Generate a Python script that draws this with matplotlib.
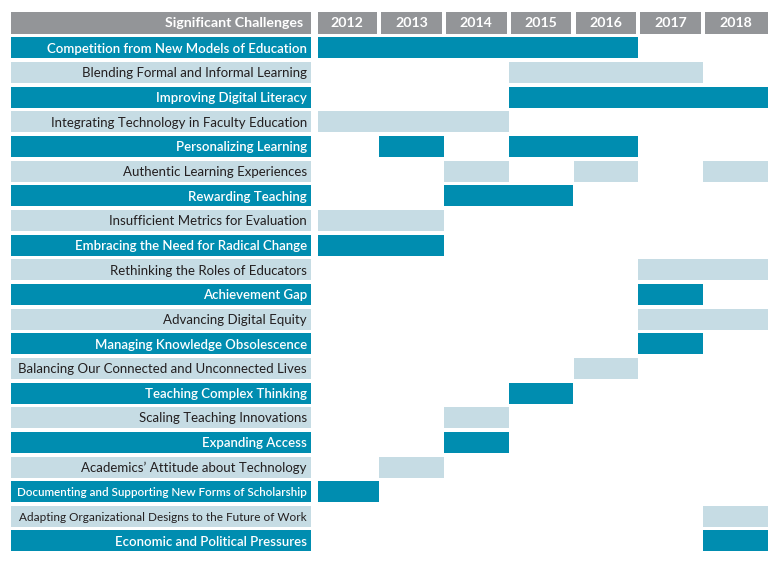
import matplotlib
matplotlib.use("Agg")
import matplotlib.pyplot as plt
from matplotlib.patches import Rectangle

years = [2012, 2013, 2014, 2015, 2016, 2017, 2018]
header_label = "Significant Challenges"
challenges = [
    "Competition from New Models of Education",
    "Blending Formal and Informal Learning",
    "Improving Digital Literacy",
    "Integrating Technology in Faculty Education",
    "Personalizing Learning",
    "Authentic Learning Experiences",
    "Rewarding Teaching",
    "Insufficient Metrics for Evaluation",
    "Embracing the Need for Radical Change",
    "Rethinking the Roles of Educators",
    "Achievement Gap",
    "Advancing Digital Equity",
    "Managing Knowledge Obsolescence",
    "Balancing Our Connected and Unconnected Lives",
    "Teaching Complex Thinking",
    "Scaling Teaching Innovations",
    "Expanding Access",
    "Academics\u2019 Attitude about Technology",
    "Documenting and Supporting New Forms of Scholarship",
    "Adapting Organizational Designs to the Future of Work",
    "Economic and Political Pressures",
]
# years each challenge appeared in
active_years = [
    [2012, 2013, 2014, 2015, 2016],
    [2015, 2016, 2017],
    [2015, 2016, 2017, 2018],
    [2012, 2013, 2014],
    [2013, 2015, 2016],
    [2014, 2016, 2018],
    [2014, 2015],
    [2012, 2013],
    [2012, 2013],
    [2017, 2018],
    [2017],
    [2017, 2018],
    [2017],
    [2016],
    [2015],
    [2014],
    [2014],
    [2013],
    [2012],
    [2018],
    [2018],
]

TEAL = "#008db0"
LIGHT = "#c6dce4"
GRAY = "#939598"
DARK_TEXT = "#231f20"

W, H = 780, 561
fig = plt.figure(figsize=(W / 100, H / 100), dpi=100)
ax = fig.add_axes([0, 0, 1, 1])

col_w = (768 - 379) / 6.0   # pixels per year column
pitch = 24.65               # pixels per row
edge_px = 379 - col_w       # pixel of the 2011.5 boundary
hdr_c_px = 23.35            # header row centre

xl = 2011.5 - edge_px / col_w
xr = xl + W / col_w
ax.set_xlim(xl, xr)
yt = -hdr_c_px / pitch
yb = yt + H / pitch
ax.set_ylim(yb, yt)
ax.axis("off")

def px(p):
    return xl + p / col_w

label_left = px(11)
label_right = px(311)
text_x = px(307)
data_left = px(318)
bar_h = 21 / pitch
hdr_h = 22 / pitch

font = ["Lato", "DejaVu Sans"]
FS = 9.5
HFS = 10.2

# header
ax.add_patch(Rectangle((label_left, -hdr_h / 2), label_right - label_left, hdr_h,
                       facecolor=GRAY, edgecolor="none"))
ax.text(px(303), 0, header_label, ha="right", va="center",
        color="white", fontsize=HFS, fontweight="bold", family=font)
gap = 2 / col_w
for i, yr in enumerate(years):
    left = data_left if i == 0 else yr - 0.5 + gap
    right = yr + 0.5 - (0 if i == len(years) - 1 else gap)
    ax.add_patch(Rectangle((left, -hdr_h / 2), right - left, hdr_h,
                           facecolor=GRAY, edgecolor="none"))
    ax.text(yr, 0, str(yr), ha="center", va="center", color="white",
            fontsize=HFS, fontweight="bold", family=font)

fig.canvas.draw()
renderer = fig.canvas.get_renderer()
max_w = 289


def runs(yrs):
    """Group consecutive years into (first, last) spans."""
    out = []
    for y in sorted(yrs):
        if out and y == out[-1][1] + 1:
            out[-1][1] = y
        else:
            out.append([y, y])
    return out


for r, (name, act) in enumerate(zip(challenges, active_years), start=1):
    dark = (r % 2 == 1)
    fc = TEAL if dark else LIGHT
    tc = "white" if dark else DARK_TEXT
    ax.add_patch(Rectangle((label_left, r - bar_h / 2), label_right - label_left,
                           bar_h, facecolor=fc, edgecolor="none"))
    t = ax.text(text_x, r + 0.03, name, ha="right", va="center", color=tc,
                fontsize=FS, family=font,
                fontweight="semibold" if dark else "normal")
    w = t.get_window_extent(renderer).width
    if w > max_w:
        t.set_fontsize(FS * max_w / w)
    for a, b in runs(act):
        left = max(a - 0.5, data_left)
        ax.barh(r, b + 0.5 - left, left=left, height=bar_h, color=fc,
                edgecolor="none", linewidth=0)

fig.savefig("out.png", dpi=100)
